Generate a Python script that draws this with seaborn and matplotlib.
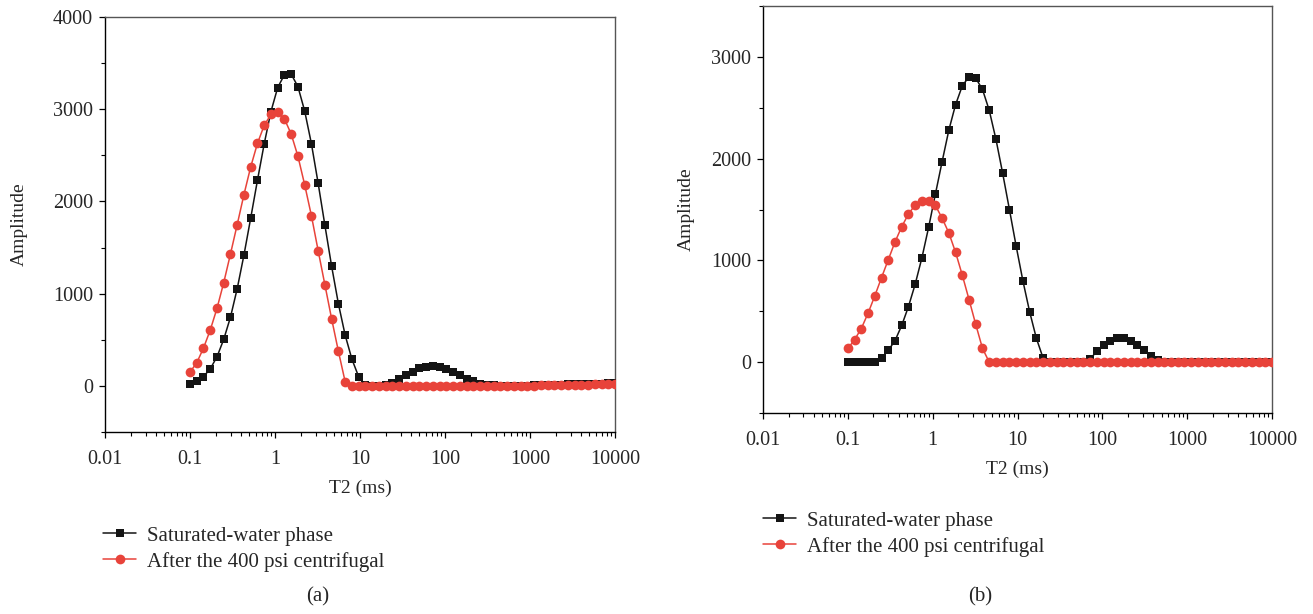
import numpy as np
import pandas as pd
import matplotlib
matplotlib.use("Agg")
import matplotlib.pyplot as plt
from matplotlib.lines import Line2D
from matplotlib.ticker import FixedLocator, MultipleLocator, LogLocator, NullFormatter, FixedFormatter
import seaborn as sns

# T2 relaxation-time bins (ms), 64 log-spaced bins from 0.1 to 10000
t2_ms = [
    0.1000, 0.1200, 0.1441, 0.1730, 0.2077, 0.2494, 0.2993, 0.3594,
    0.4314, 0.5179, 0.6218, 0.7465, 0.8962, 1.076, 1.292, 1.551,
    1.861, 2.235, 2.683, 3.221, 3.866, 4.642, 5.572, 6.690,
    8.031, 9.641, 11.57, 13.90, 16.68, 20.03, 24.04, 28.86,
    34.65, 41.60, 49.94, 59.95, 71.97, 86.40, 103.7, 124.5,
    149.5, 179.5, 215.4, 258.6, 310.5, 372.8, 447.5, 537.2,
    645.0, 774.3, 929.5, 1116, 1340, 1608, 1931, 2318,
    2783, 3340, 4010, 4814, 5780, 6939, 8330, 10000,
]

# Sample (a)
sat_a = [
    25, 50, 100, 185, 315, 505, 745, 1055,
    1420, 1820, 2230, 2625, 2975, 3235, 3375, 3380,
    3245, 2980, 2625, 2195, 1740, 1295, 890, 550,
    290, 100, 5, 0, 0, 5, 30, 70,
    115, 155, 190, 210, 215, 205, 180, 150,
    115, 80, 50, 25, 10, 5, 2, 0,
    0, 0, 2, 5, 8, 10, 12, 14,
    16, 18, 20, 22, 24, 25, 26, 27,
]
cent_a = [
    150, 250, 410, 605, 840, 1120, 1430, 1750,
    2075, 2375, 2630, 2825, 2945, 2965, 2895, 2730,
    2490, 2180, 1845, 1465, 1095, 725, 375, 45,
    0, 0, 0, 0, 0, 0, 0, 0,
    0, 0, 0, 0, 0, 0, 0, 0,
    0, 0, 0, 0, 0, 0, 0, 0,
    0, 0, 2, 4, 6, 8, 10, 11,
    12, 13, 14, 15, 16, 17, 18, 19,
]

# Sample (b)
sat_b = [
    0, 0, 0, 0, 0, 40, 115, 210,
    360, 545, 765, 1025, 1325, 1650, 1970, 2280,
    2530, 2715, 2805, 2790, 2680, 2475, 2190, 1855,
    1500, 1140, 800, 495, 235, 40, 0, 0,
    0, 0, 0, 0, 30, 110, 170, 210,
    240, 240, 210, 170, 120, 65, 20, 0,
    0, 0, 0, 0, 0, 0, 0, 0,
    0, 0, 0, 0, 0, 0, 0, 0,
]
cent_b = [
    135, 220, 330, 480, 650, 830, 1005, 1180,
    1330, 1455, 1545, 1585, 1585, 1540, 1415, 1270,
    1080, 855, 615, 370, 135, 0, 0, 0,
    0, 0, 0, 0, 0, 0, 0, 0,
    0, 0, 0, 0, 0, 0, 0, 0,
    0, 0, 0, 0, 0, 0, 0, 0,
    0, 0, 0, 0, 0, 0, 0, 0,
    0, 0, 0, 0, 0, 0, 0, 0,
]

series_names = ["Saturated-water phase", "After the 400 psi centrifugal"]
x_ticks = [0.01, 0.1, 1, 10, 100, 1000, 10000]
x_tick_labels = ["0.01", "0.1", "1", "10", "100", "1000", "10000"]
panel_labels = ["(a)", "(b)"]

BLACK = "#141414"
RED = "#e8433a"
SQ_SIZE = 6.0
DOT_SIZE = 7.0
LW = 1.1

sns.set_theme(style="white")
plt.rcParams["font.family"] = ["Liberation Serif", "DejaVu Serif"]

fig = plt.figure(figsize=(13.13, 6.14), dpi=100)
ax_a = fig.add_axes([105 / 1313, 1 - 432 / 614, 510 / 1313, 415 / 614])
ax_b = fig.add_axes([763 / 1313, 1 - 413 / 614, 509 / 1313, 407 / 614])


def draw_panel(ax, sat, cent, ylim, yticks, ylabel_pad):
    df = pd.DataFrame({"T2": t2_ms, "sat": sat, "cent": cent})
    sns.lineplot(data=df, x="T2", y="sat", ax=ax, color=BLACK, linewidth=LW,
                 marker="s", markersize=SQ_SIZE, markeredgewidth=0,
                 markerfacecolor=BLACK, legend=False, zorder=3)
    sns.lineplot(data=df, x="T2", y="cent", ax=ax, color=RED, linewidth=LW,
                 marker="o", markersize=DOT_SIZE, markeredgewidth=0,
                 markerfacecolor=RED, legend=False, zorder=4)
    ax.set_xscale("log")
    ax.set_xlim(0.01, 10000)
    ax.set_ylim(*ylim)
    ax.xaxis.set_major_locator(FixedLocator(x_ticks))
    ax.xaxis.set_major_formatter(FixedFormatter(x_tick_labels))
    ax.xaxis.set_minor_locator(LogLocator(base=10, subs=np.arange(2, 10), numticks=20))
    ax.xaxis.set_minor_formatter(NullFormatter())
    ax.yaxis.set_major_locator(FixedLocator(yticks))
    ax.yaxis.set_minor_locator(MultipleLocator(500))
    ax.tick_params(axis="both", which="major", direction="out", length=4.5,
                   width=0.9, color="black", labelsize=14.5,
                   bottom=True, left=True, top=False, right=False)
    ax.tick_params(axis="x", which="major", pad=8.5)
    ax.tick_params(axis="y", which="major", pad=4)
    ax.tick_params(axis="both", which="minor", direction="out", length=3,
                   width=0.8, color="black",
                   bottom=True, left=True, top=False, right=False)
    for side in ["left", "bottom"]:
        ax.spines[side].set_color("black")
        ax.spines[side].set_linewidth(1.0)
    for side in ["top", "right"]:
        ax.spines[side].set_color("#555555")
        ax.spines[side].set_linewidth(1.0)
    ax.set_xlabel("T2 (ms)", fontsize=14, labelpad=8)
    ax.set_ylabel("Amplitude", fontsize=14, labelpad=ylabel_pad)
    ax.grid(False)


draw_panel(ax_a, sat_a, cent_a, (-500, 4000), [0, 1000, 2000, 3000, 4000], 18)
draw_panel(ax_b, sat_b, cent_b, (-500, 3500), [0, 1000, 2000, 3000], 11.5)


def legend_handles():
    return [
        Line2D([], [], color=BLACK, linewidth=LW, marker="s", markersize=SQ_SIZE,
               markeredgewidth=0),
        Line2D([], [], color=RED, linewidth=LW, marker="o", markersize=DOT_SIZE,
               markeredgewidth=0),
    ]


for (x0, y0) in [(103 / 1313, 1 - 526 / 614), (763 / 1313, 1 - 511 / 614)]:
    fig.legend(legend_handles(), series_names, loc="upper left",
               bbox_to_anchor=(x0, y0), bbox_transform=fig.transFigure,
               frameon=False, fontsize=15, handlelength=1.6,
               handletextpad=0.5, labelspacing=0.3, borderpad=0,
               borderaxespad=0)

fig.text(318 / 1313, 1 - 597 / 614, panel_labels[0], ha="center", va="center", fontsize=15)
fig.text(980 / 1313, 1 - 597 / 614, panel_labels[1], ha="center", va="center", fontsize=15)

fig.savefig("out.png", dpi=100)
